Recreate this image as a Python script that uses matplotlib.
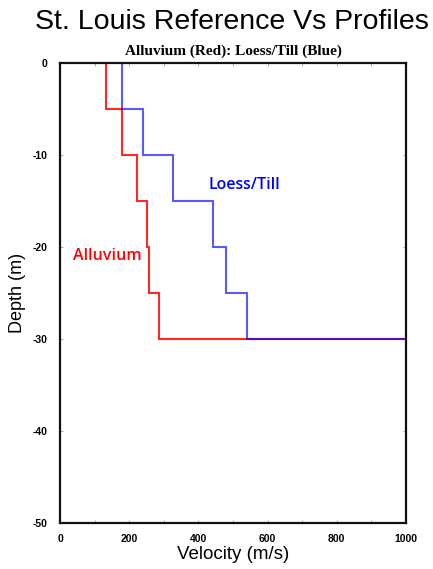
import numpy as np
import matplotlib.pyplot as plt

# layer boundaries (depth, m) and velocities (m/s)
depth_top = [0, -5, -10, -15, -20, -25]
alluvium_vs = [133, 179, 223, 250, 256, 287]
loess_vs = [179, 239, 328, 443, 480, 541]
halfspace_depth = -30
halfspace_vs = 1000

def step_profile(tops, vs, zbot, vhalf):
    x, y = [], []
    bots = tops[1:] + [zbot]
    for t, b, v in zip(tops, bots, vs):
        x += [v, v]
        y += [t, b]
    x.append(vhalf)
    y.append(zbot)
    return x, y

plt.rcParams['font.family'] = ['Liberation Sans', 'DejaVu Sans']
plt.rcParams['axes.unicode_minus'] = False

fig = plt.figure(figsize=(4.33, 5.69), dpi=100)
ax = fig.add_axes([0.1386, 0.0808, 0.799, 0.8085])

xr, yr = step_profile(depth_top, alluvium_vs, halfspace_depth, halfspace_vs)
xb, yb = step_profile(depth_top, loess_vs, halfspace_depth, halfspace_vs)
ax.plot(xr, yr, color='#ff0000', lw=1.5, alpha=0.85, solid_joinstyle='miter')
ax.plot(xb, yb, color='#0000ff', lw=1.5, alpha=0.65, solid_joinstyle='miter')

ax.text(428, -13.3, 'Loess/Till', color='#0000ff', fontsize=11.5,
        fontfamily='Open Sans', fontweight='semibold', va='center', ha='left')
ax.text(37, -21, 'Alluvium', color='#ff0000', fontsize=11.5,
        fontfamily='Open Sans', fontweight='semibold', va='center', ha='left')

ax.set_xlim(0, 1000)
ax.set_ylim(-50, 0)
ax.set_xticks([0, 200, 400, 600, 800, 1000])
ax.set_yticks([0, -10, -20, -30, -40, -50])
ax.set_xticks(np.arange(0, 1001, 100), minor=True)
ax.tick_params(which='both', direction='in', length=2, width=0.5,
               colors='#888888', labelcolor='black', top=True, right=True,
               labelsize=7.5)
ax.tick_params(axis='x', pad=8)
ax.tick_params(axis='y', pad=9)
for lbl in ax.get_xticklabels() + ax.get_yticklabels():
    lbl.set_fontweight('bold')
for s in ax.spines.values():
    s.set_linewidth(1.6)
    s.set_color('#111111')

ax.set_xlabel('Velocity (m/s)', fontsize=13.5, labelpad=1)
ax.set_ylabel('Depth (m)', fontsize=13, labelpad=5)

fig.text(0.535, 0.962, 'St. Louis Reference Vs Profiles', fontsize=20.5,
         ha='center', va='center')
fig.text(0.54, 0.91, 'Alluvium (Red): Loess/Till (Blue)', fontsize=11,
         fontfamily='Liberation Serif', fontweight='bold', ha='center', va='center')

fig.savefig('out.png', dpi=100)
